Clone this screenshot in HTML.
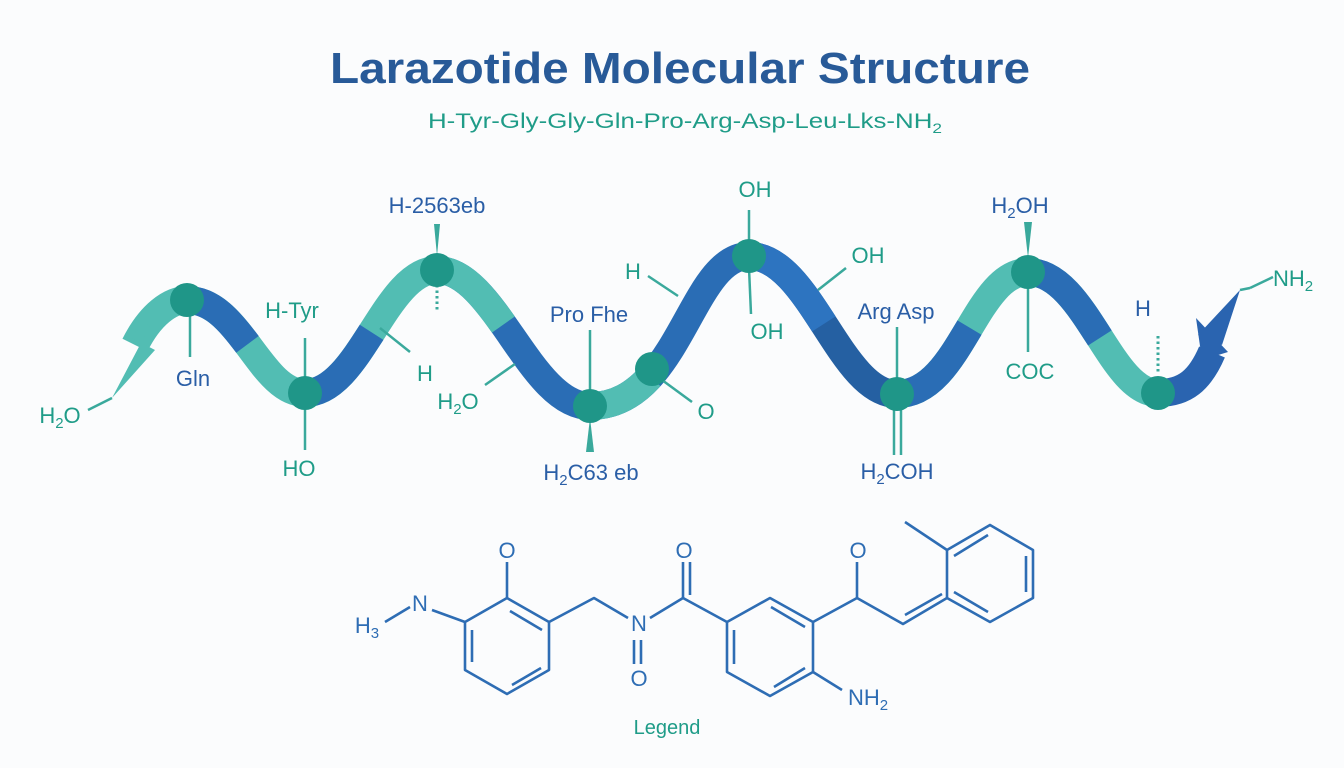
<!DOCTYPE html>
<html><head><meta charset="utf-8"><style>
html,body{margin:0;padding:0;background:#fbfcfd;}
svg{display:block;font-family:"Liberation Sans",sans-serif;}
</style></head><body>
<svg width="1344" height="768" viewBox="0 0 1344 768" xmlns="http://www.w3.org/2000/svg">
<rect width="1344" height="768" fill="#fbfcfd"/>
<text x="680" y="83" text-anchor="middle" font-size="44" font-weight="bold" fill="#285a98" textLength="700" lengthAdjust="spacingAndGlyphs">Larazotide Molecular Structure</text>
<text x="685" y="128" text-anchor="middle" font-size="21" fill="#1f9c88" textLength="514" lengthAdjust="spacingAndGlyphs">H-Tyr-Gly-Gly-Gln-Pro-Arg-Asp-Leu-Lks-NH<tspan font-size="14" dy="5">2</tspan></text>

<g fill="none" stroke-width="28" stroke-linecap="butt">
<!-- tail arrow -->
<path d="M135,345 C150,315 170,300 187,300" stroke="#52bdb3"/>
<path d="M187,300 C240,300 260,393 305,393" stroke="#52bdb3"/>
<path d="M187,300 C240,300 260,393 305,393" stroke="#2a6db5" pathLength="100" stroke-dasharray="50 100"/>
<path d="M305,393 C360,393 385,270 437,270" stroke="#52bdb3"/>
<path d="M305,393 C360,393 385,270 437,270" stroke="#2a6db5" pathLength="100" stroke-dasharray="50 100"/>
<path d="M437,270 C495,270 530,406 590,406" stroke="#2a6db5"/>
<path d="M437,270 C495,270 530,406 590,406" stroke="#52bdb3" pathLength="100" stroke-dasharray="42 100"/>
<path d="M590,406 C680,406 690,256 749,256" stroke="#2a6db5"/>
<path d="M590,406 C680,406 690,256 749,256" stroke="#52bdb3" pathLength="100" stroke-dasharray="30 100"/>
<path d="M749,256 C810,256 840,394 897,394" stroke="#2560a2"/>
<path d="M749,256 C810,256 840,394 897,394" stroke="#2d74c0" pathLength="100" stroke-dasharray="50 100"/>
<path d="M897,394 C960,394 975,272 1028,272" stroke="#52bdb3"/>
<path d="M897,394 C960,394 975,272 1028,272" stroke="#2a6db5" pathLength="100" stroke-dasharray="55 100"/>
<path d="M1028,272 C1085,272 1110,393 1158,393" stroke="#52bdb3"/>
<path d="M1028,272 C1085,272 1110,393 1158,393" stroke="#2a6db5" pathLength="100" stroke-dasharray="55 100"/>
<path d="M1158,393 C1185,393 1200,380 1212,352" stroke="#2a64b0"/>
</g>
<!-- arrowheads -->
<polygon points="112,398 152,322 128,336 155,350" fill="#52bdb3"/>
<polygon points="1240,290 1222,345 1198,335" fill="#2a64b0"/>
<polygon points="1196,318 1228,352 1202,360" fill="#2a64b0"/>

<g stroke="#3aa99c" stroke-width="2.5" fill="none">
<polyline points="88,410 112,398"/>
<line x1="190" y1="310" x2="190" y2="357"/>
<line x1="305" y1="338" x2="305" y2="450"/>
<line x1="380" y1="328" x2="410" y2="352"/>
<line x1="485" y1="385" x2="515" y2="364"/>
<line x1="590" y1="330" x2="590" y2="398"/>
<line x1="648" y1="276" x2="678" y2="296"/>
<line x1="662" y1="380" x2="692" y2="402"/>
<line x1="749" y1="210" x2="749" y2="245"/>
<line x1="749" y1="268" x2="751" y2="314"/>
<line x1="818" y1="290" x2="846" y2="268"/>
<line x1="897" y1="327" x2="897" y2="385"/>
<line x1="894" y1="405" x2="894" y2="455"/>
<line x1="901" y1="405" x2="901" y2="455"/>
<line x1="1028" y1="285" x2="1028" y2="352"/>
<line x1="1250" y1="288" x2="1273" y2="277"/>
<line x1="1240" y1="290" x2="1250" y2="288"/>
</g>
<g stroke="#3aa99c" stroke-width="3" stroke-dasharray="2.5 3">
<line x1="437" y1="285" x2="437" y2="312"/>
<line x1="1158" y1="336" x2="1158" y2="374"/>
</g>
<g fill="#3aa99c">
<polygon points="434,224 440,224 437,256"/>
<polygon points="586,452 594,452 590,418"/>
<polygon points="1024,222 1032,222 1028,258"/>
</g>
<g fill="#1f9688">
<ellipse cx="187" cy="300" rx="17" ry="17"/>
<ellipse cx="305" cy="393" rx="17" ry="17"/>
<ellipse cx="437" cy="270" rx="17" ry="17"/>
<ellipse cx="590" cy="406" rx="17" ry="17"/>
<ellipse cx="652" cy="369" rx="17" ry="17"/>
<ellipse cx="749" cy="256" rx="17" ry="17"/>
<ellipse cx="897" cy="394" rx="17" ry="17"/>
<ellipse cx="1028" cy="272" rx="17" ry="17"/>
<ellipse cx="1158" cy="393" rx="17" ry="17"/>
</g>

<g font-size="22" text-anchor="middle">
<text x="60" y="423" fill="#1f9c88">H<tspan font-size="15" dy="5">2</tspan><tspan dy="-5">O</tspan></text>
<text x="193" y="386" fill="#2a5ea6">Gln</text>
<text x="292" y="318" fill="#1f9c88">H-Tyr</text>
<text x="299" y="476" fill="#1f9c88">HO</text>
<text x="437" y="213" fill="#2a5ea6">H-2563eb</text>
<text x="425" y="381" fill="#1f9c88">H</text>
<text x="458" y="409" fill="#1f9c88">H<tspan font-size="15" dy="5">2</tspan><tspan dy="-5">O</tspan></text>
<text x="589" y="322" fill="#2a5ea6">Pro Fhe</text>
<text x="591" y="480" fill="#2a5ea6">H<tspan font-size="15" dy="5">2</tspan><tspan dy="-5">C63 eb</tspan></text>
<text x="633" y="279" fill="#1f9c88">H</text>
<text x="706" y="419" fill="#1f9c88">O</text>
<text x="755" y="197" fill="#1f9c88">OH</text>
<text x="767" y="339" fill="#1f9c88">OH</text>
<text x="868" y="263" fill="#1f9c88">OH</text>
<text x="896" y="319" fill="#2a5ea6">Arg Asp</text>
<text x="897" y="479" fill="#2a5ea6">H<tspan font-size="15" dy="5">2</tspan><tspan dy="-5">COH</tspan></text>
<text x="1020" y="213" fill="#2a5ea6">H<tspan font-size="15" dy="5">2</tspan><tspan dy="-5">OH</tspan></text>
<text x="1030" y="379" fill="#1f9c88">COC</text>
<text x="1143" y="316" fill="#2a5ea6">H</text>
<text x="1293" y="286" fill="#1f9c88">NH<tspan font-size="15" dy="5">2</tspan></text>
</g>

<!-- bottom molecule -->
<g stroke="#2e6db4" stroke-width="2.6" fill="none" stroke-linejoin="round">
<polygon points="507,598 549,622 549,670 507,694 465,670 465,622"/>
<line x1="542" y1="630" x2="510" y2="611"/><line x1="542" y1="662" x2="542" y2="630" stroke="none"/>
<line x1="472" y1="630" x2="472" y2="662"/>
<line x1="512" y1="685" x2="541" y2="668"/>
<line x1="507" y1="562" x2="507" y2="598"/>
<line x1="432" y1="610" x2="465" y2="622"/>
<line x1="385" y1="622" x2="410" y2="607"/>
<polyline points="549,622 594,598 628,618"/>
<line x1="650" y1="618" x2="683" y2="598"/>
<line x1="683" y1="562" x2="683" y2="598"/>
<line x1="690" y1="562" x2="690" y2="595"/>
<line x1="634" y1="640" x2="634" y2="664"/>
<line x1="641" y1="640" x2="641" y2="664"/>
<line x1="683" y1="598" x2="727" y2="622"/>
<polygon points="770,598 813,622 813,672 770,696 727,672 727,622"/>
<line x1="771" y1="607" x2="805" y2="627"/>
<line x1="734" y1="630" x2="734" y2="664"/>
<line x1="774" y1="687" x2="805" y2="668"/>
<line x1="813" y1="672" x2="842" y2="690"/>
<polyline points="813,622 857,598 903,624 947,598"/>
<line x1="857" y1="562" x2="857" y2="598"/>
<line x1="905" y1="615" x2="942" y2="594"/>
<polygon points="947,598 947,550 990,525 1033,550 1033,598 990,622"/>
<line x1="954" y1="556" x2="988" y2="535"/>
<line x1="1026" y1="556" x2="1026" y2="592"/>
<line x1="954" y1="592" x2="988" y2="612"/>
<line x1="947" y1="550" x2="905" y2="522"/>
</g>
<g font-size="22" fill="#2e6db4" text-anchor="middle">
<text x="507" y="558">O</text>
<text x="420" y="611">N</text>
<text x="367" y="633">H<tspan font-size="15" dy="5">3</tspan></text>
<text x="639" y="631">N</text>
<text x="639" y="686">O</text>
<text x="684" y="558">O</text>
<text x="858" y="558">O</text>
<text x="868" y="705">NH<tspan font-size="15" dy="5">2</tspan></text>
</g>
<text x="667" y="734" text-anchor="middle" font-size="20" fill="#1f9c88">Legend</text>
</svg>
</body></html>
